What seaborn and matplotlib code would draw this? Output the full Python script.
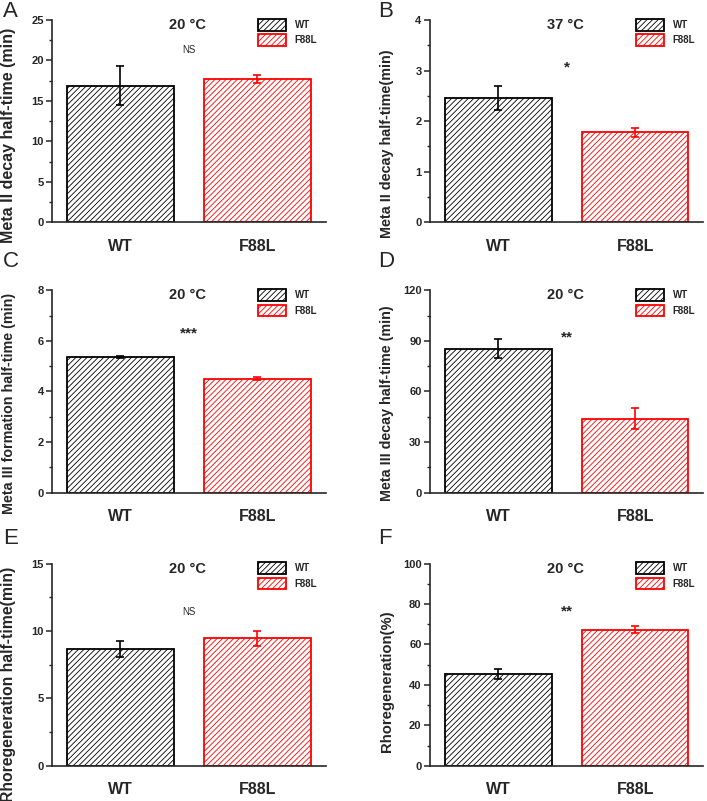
import matplotlib
matplotlib.use("Agg")
import matplotlib.pyplot as plt
from matplotlib.ticker import AutoMinorLocator, MultipleLocator
import pandas as pd
import seaborn as sns

# ── data ───────────────────────────────────────────────────────────────
genotypes = ["WT", "F88L"]

a_mean, a_err = [16.88, 17.75], [2.38, 0.50]
b_mean, b_err = [2.46, 1.78], [0.245, 0.09]
c_mean, c_err = [5.37, 4.51], [0.04, 0.06]
d_mean, d_err = [85.5, 43.9], [5.6, 6.1]
e_mean, e_err = [8.65, 9.44], [0.58, 0.53]
f_mean, f_err = [45.4, 67.2], [2.4, 1.8]

panels = [
    # letter, means, errs, ylabel, ymax, ystep, temp, sig, sig_y
    ("A", a_mean, a_err, "Meta II decay half-time (min)", 25, 5, "20 °C", "NS", 21.3),
    ("B", b_mean, b_err, "Meta II decay half-time(min)", 4, 1, "37 °C", "*", 3.06),
    ("C", c_mean, c_err, "Meta III formation half-time (min)", 8, 2, "20 °C", "***", 6.3),
    ("D", d_mean, d_err, "Meta III decay half-time (min)", 120, 30, "20 °C", "**", 92),
    ("E", e_mean, e_err, "Rhoregeneration half-time(min)", 15, 5, "20 °C", "NS", 11.4),
    ("F", f_mean, f_err, "Rhoregeneration(%)", 100, 20, "20 °C", "**", 76.5),
]

colors = ["black", "red"]

# ── layout / style ─────────────────────────────────────────────────────
label_sizes = [11.5, 10.4, 10.3, 10.3, 11.3, 10.7]
label_ypos = [0.43, 0.39, 0.443, 0.44, 0.40, 0.42]

sns.set_style("ticks")
plt.rcParams["font.family"] = ["Liberation Sans", "DejaVu Sans"]
plt.rcParams["font.weight"] = "bold"
plt.rcParams["hatch.linewidth"] = 0.6
plt.rcParams["axes.linewidth"] = 1.2

fig = plt.figure(figsize=(7.07, 8.01), dpi=100)

lefts = [0.0735, 0.608]
bottoms = [0.7225, 0.385, 0.0440]
W, H = 0.387, 0.2525
letter_x = [0.004, 0.535]
letter_y = [0.986, 0.673, 0.328]

for i, (letter, means, errs, ylabel, ymax, ystep, temp, sig, sig_y) in enumerate(panels):
    row, col = divmod(i, 2)
    ax = fig.add_axes([lefts[col], bottoms[row], W, H])

    df = pd.DataFrame({"genotype": genotypes, "value": means})
    sns.barplot(data=df, x="genotype", y="value", hue="genotype",
                palette=colors, width=0.78, errorbar=None,
                legend=False, ax=ax)
    for patch, c in zip(ax.patches, colors):
        patch.set_facecolor("white")
        patch.set_edgecolor(c)
        patch.set_linewidth(1.3)
        patch.set_hatch("//////")

    for x, (m, e, c) in enumerate(zip(means, errs, colors)):
        ax.errorbar(x, m, yerr=e, fmt="none", ecolor=c,
                    elinewidth=1.2, capsize=3, capthick=1.2)

    ax.set_xlim(-0.5, 1.5)
    ax.set_ylim(0, ymax)
    ax.yaxis.set_major_locator(MultipleLocator(ystep))
    ax.yaxis.set_minor_locator(AutoMinorLocator(2))
    sns.despine(ax=ax)
    ax.tick_params(axis="y", which="major", direction="out", length=4,
                   width=1.1, labelsize=8, pad=2)
    ax.tick_params(axis="y", which="minor", direction="out", length=2, width=1.0)
    ax.tick_params(axis="x", length=0, labelsize=11.5, pad=12)
    for lab in ax.get_xticklabels() + ax.get_yticklabels():
        lab.set_fontweight("bold")

    ax.set_xlabel("")
    ax.set_ylabel(ylabel, fontsize=label_sizes[i], fontweight="bold")
    ax.yaxis.label.set_verticalalignment("center")
    ax.yaxis.set_label_coords(-43 / 273, label_ypos[i])

    ax.text(0.49, ymax * 0.975, temp, ha="center", va="center",
            fontsize=10.5, fontweight="bold")
    if sig == "NS":
        ax.text(0.5, sig_y, sig, ha="center", va="center",
                fontsize=7, fontweight="normal")
    else:
        ax.text(0.5, sig_y, sig, ha="center", va="center",
                fontsize=11, fontweight="bold")

    ax.legend(handles=list(ax.patches), labels=genotypes, loc="upper left",
              bbox_to_anchor=(0.752, 1.005), frameon=False, fontsize=7,
              handlelength=2.9, handleheight=1.45, handletextpad=0.9,
              labelspacing=0.4, borderpad=0, borderaxespad=0)

    fig.text(letter_x[col], letter_y[row], letter, fontsize=16,
             fontweight="normal", ha="left", va="center")

fig.savefig("out.png", dpi=100)
